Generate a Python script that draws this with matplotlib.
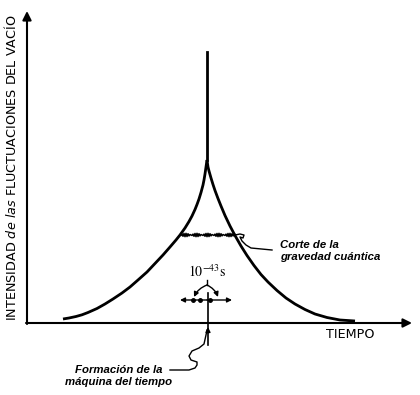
import numpy as np
import matplotlib as mpl
import matplotlib.pyplot as plt

mpl.rc('font', family='DejaVu Sans')

# curve: time (t) vs vacuum-fluctuation intensity (I)
t_left = [36, 42, 49, 55, 61, 70, 78, 86, 95, 103, 111, 120, 128, 136, 143,
          149, 153, 158, 162, 165, 168, 170, 172, 174, 176, 177, 178, 179, 180]
i_left = [4, 5, 6.5, 8.2, 10.5, 14.5, 19, 24, 30, 36, 43, 51, 59.5, 68, 76,
          83, 88, 95, 101.5, 107, 113.5, 118.5, 124, 130.5, 138, 143, 149, 156, 163]
t_right = [180, 181, 182, 184, 186, 188, 191, 194, 198, 203, 208, 214, 220,
           227, 234, 241, 250, 259, 268, 278, 288, 300, 313, 328]
i_right = [163, 156, 152, 145, 138.5, 132.5, 124.5, 117, 107.5, 97, 87.5, 77,
           67.5, 57.5, 48.5, 41, 32.5, 25, 19, 13.5, 9, 5.5, 3, 2]

spike_t = 179.5
spike_i = [163, 271]

cutoff_i = 88
cutoff_t = [153, 208]

# leader lines (hand drawn)
corte_t = [208, 213, 217, 216, 213, 215, 219, 224, 245]
corte_i = [88, 89, 88, 85, 86, 82, 78, 75, 73]
form_t = [180, 179, 177, 172, 165, 162, 164, 170, 170, 168, 162, 156, 143]
form_i = [-7, -12, -21, -25, -28, -33, -37, -39, -42, -45, -47, -47, -47]

planck_t = [153, 166, 173, 183, 205]
planck_i = 23

fig = plt.figure(figsize=(4.2, 3.95), dpi=100)
ax = fig.add_axes((0, 0, 1, 1))
ax.set_xlim(-27, 393)
ax.set_ylim(-72, 323)
ax.axis('off')

lw_curve = 2.0
ax.plot(t_left, i_left, color='black', lw=lw_curve, solid_capstyle='butt')
ax.plot(t_right, i_right, color='black', lw=lw_curve, solid_capstyle='butt')
ax.plot([spike_t, spike_t], spike_i, color='black', lw=lw_curve)

# wavy cutoff line
cut, = ax.plot(cutoff_t, [cutoff_i, cutoff_i], color='black', lw=1.1)
cut.set_sketch_params(scale=1.7, length=2.2, randomness=1.0)

# axes with arrows
arrow = dict(arrowstyle='-|>', color='black', lw=1.5, mutation_scale=13,
             shrinkA=0, shrinkB=0)
ax.annotate('', xy=(0, 312), xytext=(0, -1), arrowprops=arrow)
ax.annotate('', xy=(385, 0), xytext=(-1, 0), arrowprops=arrow)

ax.text(-16, 155, r'INTENSIDAD $\it{de\ las}$ FLUCTUACIONES DEL VACÍO',
        rotation=90, ha='center', va='center', fontsize=9.2)
ax.text(323, -12, 'TIEMPO', ha='center', va='center', fontsize=9.2)

# Planck time marker
ax.text(180, 51, r'$\mathrm{10^{-43}s}$', math_fontfamily='stix',
        ha='center', va='center', fontsize=10)
small = dict(arrowstyle='-|>', color='black', lw=1.0, mutation_scale=7,
             shrinkA=0, shrinkB=0)
ax.plot([180, 180], [43, 38], color='black', lw=1.0)
ax.annotate('', xy=(167, 26), xytext=(180, 38),
            arrowprops=dict(small, connectionstyle='arc3,rad=0.2'))
ax.annotate('', xy=(191, 26), xytext=(180, 38),
            arrowprops=dict(small, connectionstyle='arc3,rad=-0.2'))
ax.annotate('', xy=(planck_t[0], planck_i), xytext=(180, planck_i), arrowprops=small)
ax.annotate('', xy=(planck_t[-1], planck_i), xytext=(180, planck_i), arrowprops=small)
ax.plot(planck_t[1:-1], [planck_i] * 3, 'o', color='black', ms=2.5)
ax.plot([181, 181], [30, -22], color='black', lw=1.2)
ax.annotate('', xy=(181, -4), xytext=(181, -10), arrowprops=small)

# annotations
note = dict(fontsize=8.2, family='Liberation Sans', style='italic',
            weight='bold', linespacing=1.2)
ax.plot(corte_t, corte_i, color='black', lw=1.0)
ax.text(253, 72, 'Corte de la\ngravedad cuántica', ha='left', va='center', **note)
ax.plot(form_t, form_i, color='black', lw=1.0)
ax.text(92, -53, 'Formación de la\nmáquina del tiempo', ha='center', va='center', **note)

fig.savefig('out.png', dpi=100, facecolor='white')
